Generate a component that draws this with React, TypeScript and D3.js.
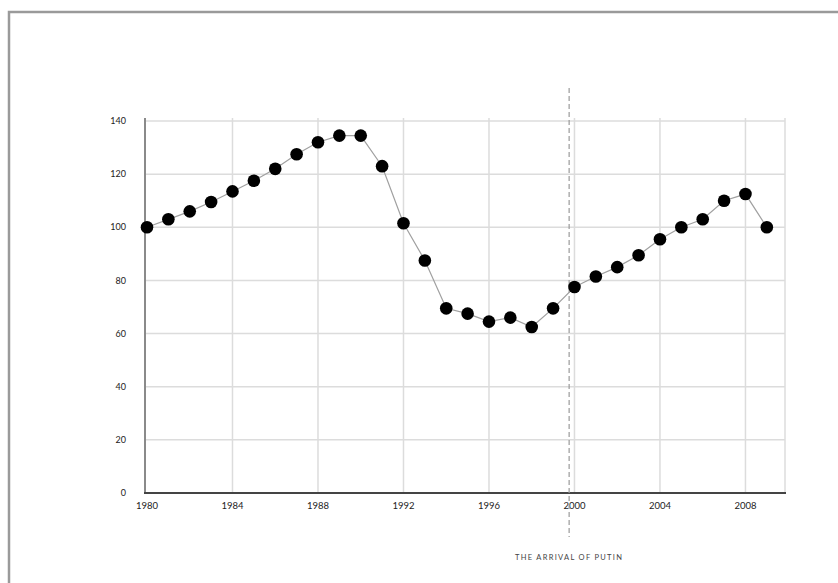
import React from 'react'
import * as d3 from 'd3'

const years = [1980, 1981, 1982, 1983, 1984, 1985, 1986, 1987, 1988, 1989, 1990, 1991, 1992, 1993, 1994, 1995, 1996, 1997, 1998, 1999, 2000, 2001, 2002, 2003, 2004, 2005, 2006, 2007, 2008, 2009]
const values = [100, 103, 106, 109.5, 113.5, 117.5, 122, 127.5, 132, 134.5, 134.5, 123, 101.5, 87.5, 69.5, 67.5, 64.5, 66, 62.5, 69.5, 77.5, 81.5, 85, 89.5, 95.5, 100, 103, 110, 112.5, 100]
const xTicks = [1980, 1984, 1988, 1992, 1996, 2000, 2004, 2008]
const yTicks = [0, 20, 40, 60, 80, 100, 120, 140]
const putinYear = 1999.75
const annotation = 'THE ARRIVAL OF PUTIN'

const width = 838
const height = 583

export default function App() {
  const x = d3.scaleLinear().domain([1980, 2009.85]).range([147, 785])
  const y = d3.scaleLinear().domain([0, 140]).range([493, 121])
  const top = 118

  const line = d3.line<number>()
    .x((d, i) => x(years[i]))
    .y(d => y(d))

  const font = 'Lato, "Open Sans", sans-serif'

  return (
    <div style={{ position: 'absolute', left: 0, top: 0, width, height, background: '#fff' }}>
      <svg width={width} height={height} style={{ display: 'block' }}>
        {/* frame, open at right and bottom */}
        <path d={`M9,${height} L9,12 L${width},12`} fill="none" stroke="#9a9a9a" strokeWidth={2.5} />

        {/* grid */}
        {yTicks.filter(t => t > 0).map(t => (
          <line key={'h' + t} x1={145} x2={785} y1={y(t)} y2={y(t)} stroke="#dcdcdc" strokeWidth={1.5} />
        ))}
        {xTicks.filter(t => t > 1980).map(t => (
          <line key={'v' + t} x1={x(t)} x2={x(t)} y1={top} y2={493} stroke="#dcdcdc" strokeWidth={1.5} />
        ))}
        <line x1={785} x2={785} y1={top} y2={493} stroke="#dcdcdc" strokeWidth={1.5} />

        {/* axes */}
        <line x1={145} x2={145} y1={top} y2={494} stroke="#8a8a8a" strokeWidth={2} />
        <line x1={144} x2={786} y1={493} y2={493} stroke="#444" strokeWidth={2} />

        {/* tick labels */}
        {yTicks.map(t => (
          <text key={'yl' + t} x={126} y={y(t)} dy="0.35em" textAnchor="end"
            fontFamily={font} fontSize={9} fill="#222">{t}</text>
        ))}
        {xTicks.map(t => (
          <text key={'xl' + t} x={x(t)} y={509} textAnchor="middle"
            fontFamily={font} fontSize={9.5} fill="#222">{t}</text>
        ))}

        {/* Putin marker */}
        <line x1={x(putinYear)} x2={x(putinYear)} y1={88} y2={537}
          stroke="#9a9a9a" strokeWidth={1.2} strokeDasharray="5,3" />
        <text x={x(putinYear)} y={560} textAnchor="middle" fontFamily={font}
          fontSize={7.5} letterSpacing={1.3} fill="#444">{annotation}</text>

        {/* series */}
        <path d={line(values) || ''} fill="none" stroke="#a0a0a0" strokeWidth={1.2} />
        {values.map((v, i) => (
          <circle key={i} cx={x(years[i])} cy={y(v)} r={6.3} fill="#000" />
        ))}
      </svg>
    </div>
  )
}
